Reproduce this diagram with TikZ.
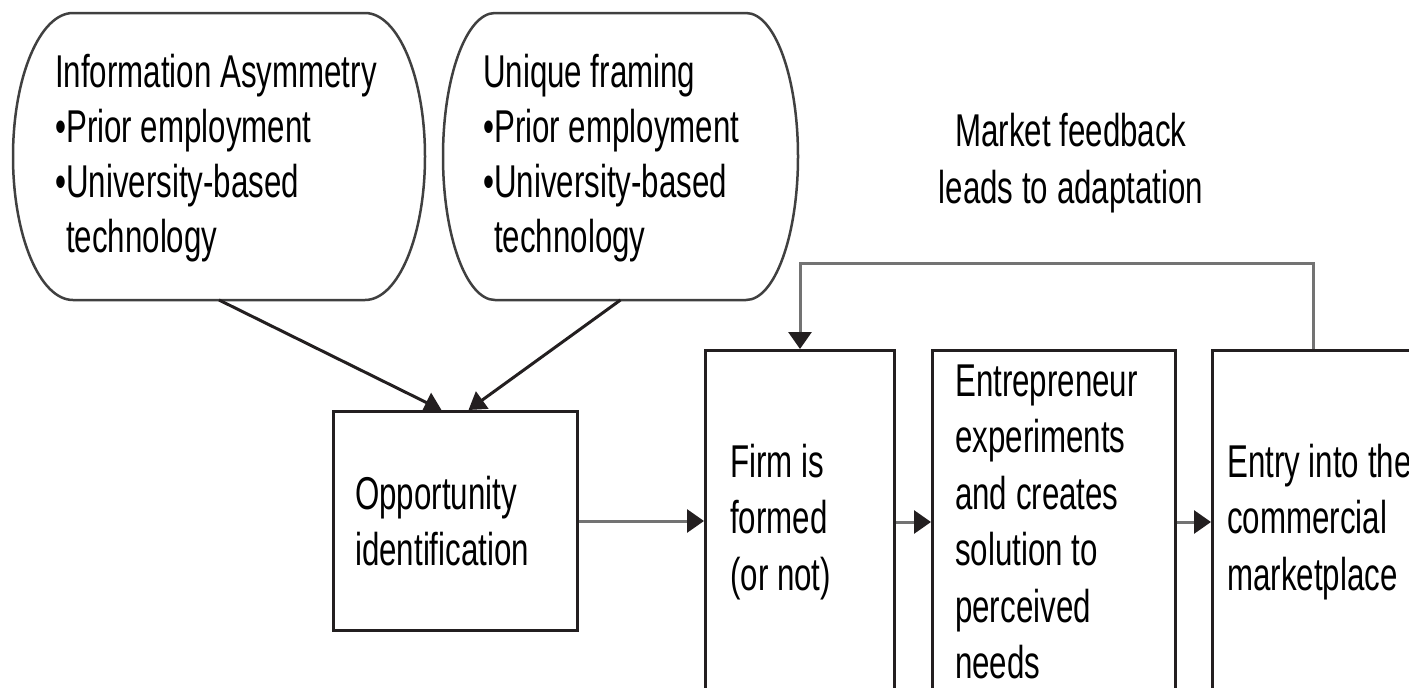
\documentclass[tikz,border=0pt]{standalone}
\usepackage{fontspec}
\setmainfont{Liberation Sans}[FakeStretch=0.68]
\usetikzlibrary{arrows.meta}

\definecolor{ink}{HTML}{231F20}
\newcommand{\boxfont}{\fontsize{46pt}{56.5pt}\selectfont}

\begin{document}
\begin{tikzpicture}[x=1pt, y=-1pt,
    bubble/.style={minimum height=287pt, inner sep=0pt, outer sep=0pt, anchor=north west},
    stage/.style={draw=ink, line width=3pt, minimum height=343pt, inner sep=0pt, anchor=north west},
    words/.style={align=left, inner sep=0pt, anchor=west, font=\boxfont},
    wire/.style={black!55, line width=3pt, -{Triangle[length=17pt, width=23pt, color=ink]}},
    push/.style={ink, line width=3pt, -{Triangle[length=17pt, width=21pt]}}]
    \useasboundingbox (0,0) rectangle (1409,688);
    \clip (0,0) rectangle (1409,688);

    \node[bubble, minimum width=412pt] (asym) at (13,13) {};
    \node[bubble, minimum width=355pt] (frame) at (443,13) {};
    \foreach \n/\r in {asym/60, frame/52}
        \draw[black!75, line width=2.5pt] ([xshift=\r pt]\n.north west) -- ([xshift=-\r pt]\n.north east)
            arc[start angle=90, end angle=-90, x radius=\r pt, y radius=143.5pt]
            -- ([xshift=\r pt]\n.south west)
            arc[start angle=270, end angle=90, x radius=\r pt, y radius=143.5pt] -- cycle;
    \node[words, font=\fontsize{46pt}{55pt}\selectfont] (asym-t) at ([xshift=42pt, yshift=-2pt]asym.west) {Information Asymmetry\\•Prior employment\\•University-based\\\phantom{•}technology};
    \node[words, font=\fontsize{46pt}{55pt}\selectfont] (frame-t) at ([xshift=40pt, yshift=-2pt]frame.west) {Unique framing\\•Prior employment\\•University-based\\\phantom{•}technology};

    \node[stage, minimum width=244pt, minimum height=219pt] (opp) at (332,410) {};
    \node[stage, minimum width=189pt] (firm) at (704,349) {};
    \node[stage, minimum width=243pt] (ent) at (931,349) {};
    \node[stage, minimum width=222pt] (entry) at (1211,349) {};
    \node[words] (opp-t) at ([xshift=23pt]opp.west) {Opportunity\\identification};
    \node[words] (firm-t) at ([xshift=26pt]firm.west) {Firm is\\formed\\(or not)};
    \node[words] (ent-t) at ([xshift=24pt]ent.west) {Entrepreneur\\experiments\\and creates\\solution to\\perceived\\needs};
    \node[words] (entry-t) at ([xshift=16pt]entry.west) {Entry into the\\commercial\\marketplace};

    \node[font=\boxfont, align=center] (fb) at (1071,163) {Market feedback\\leads to adaptation};

    \draw[push] (asym.south) -- ([xshift=-14pt]opp.north);
    \draw[push] (frame.south) -- ([xshift=13pt]opp.north);
    \draw[wire] (opp.east) -- (opp.east -| firm.west);
    \draw[wire] (firm.east) -- (ent.west);
    \draw[wire] (ent.east) -- (entry.west);
    \draw[wire] ([xshift=102pt]entry.north west) -- ++(0,-86) -| (firm.north);
\end{tikzpicture}
\end{document}
